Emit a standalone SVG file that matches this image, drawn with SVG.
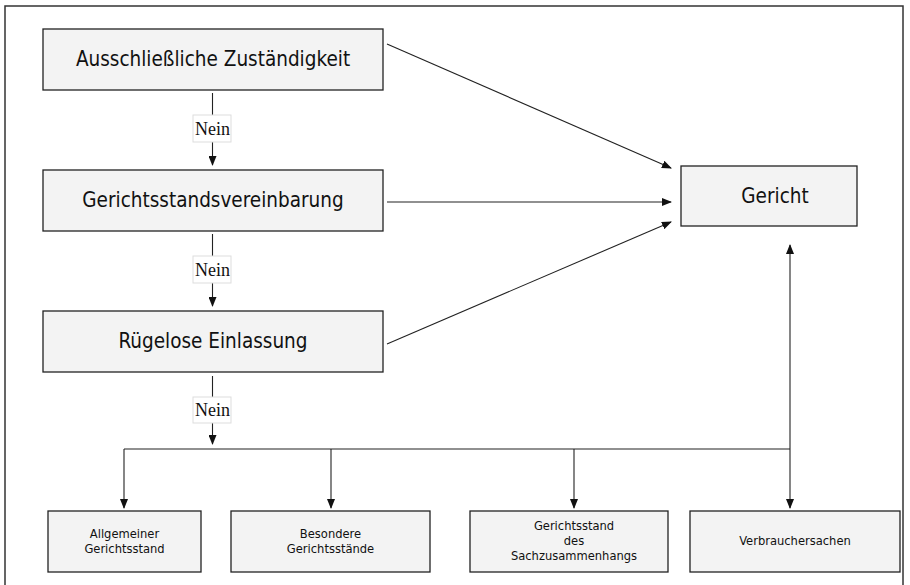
<svg xmlns="http://www.w3.org/2000/svg" width="910" height="585" viewBox="0 0 910 585">
<style>
.box{fill:#f3f3f3;stroke:#222;stroke-width:1.3}
.lbl{fill:#fff;stroke:#ddd;stroke-width:1}
.big{font-family:"DejaVu Sans Condensed","DejaVu Sans",sans-serif;font-size:20.5px;fill:#111;text-anchor:middle}
.sm{font-family:"DejaVu Sans Condensed","DejaVu Sans",sans-serif;font-size:12.8px;fill:#111;text-anchor:middle}
.nein{font-family:"Liberation Serif",serif;font-size:18px;fill:#111;text-anchor:middle}
.ln{stroke:#222;stroke-width:1.1;fill:none}
.ar{stroke:#222;stroke-width:1.1;fill:none;marker-end:url(#ah)}
</style>
<defs>
<marker id="ah" markerWidth="10" markerHeight="8" refX="9" refY="4" orient="auto" markerUnits="userSpaceOnUse">
<path d="M0,0 L10,4 L0,8 Z" fill="#111"/>
</marker>
</defs>
<rect x="5" y="6" width="898" height="585" fill="#fff" stroke="#333" stroke-width="1.5"/>
<g id="connectors">
<line class="ln" x1="212.5" y1="93" x2="212.5" y2="115"/>
<line class="ar" x1="212.5" y1="142" x2="212.5" y2="165"/>
<line class="ln" x1="212.5" y1="234" x2="212.5" y2="256"/>
<line class="ar" x1="212.5" y1="283" x2="212.5" y2="306"/>
<line class="ln" x1="212.5" y1="376" x2="212.5" y2="397"/>
<line class="ar" x1="212.5" y1="423" x2="212.5" y2="444"/>
<polyline class="ln" points="124,449 790,449"/>
<line class="ar" x1="124" y1="449" x2="124" y2="508"/>
<line class="ar" x1="331" y1="449" x2="331" y2="508"/>
<line class="ar" x1="574" y1="449" x2="574" y2="508"/>
<line class="ar" x1="790" y1="449" x2="790" y2="508"/>
<line class="ar" x1="790" y1="449" x2="790" y2="245"/>
<line class="ar" x1="387" y1="44" x2="671" y2="168"/>
<line class="ar" x1="387" y1="202" x2="671" y2="202"/>
<line class="ar" x1="387" y1="344" x2="671" y2="222"/>
<g id="nein1"><rect class="lbl" x="193" y="115" width="38" height="27"/><text class="nein" x="212.5" y="134.5">Nein</text></g>
<g id="nein2"><rect class="lbl" x="193" y="256" width="38" height="27"/><text class="nein" x="212.5" y="275.5">Nein</text></g>
<g id="nein3"><rect class="lbl" x="193" y="397" width="38" height="26"/><text class="nein" x="212.5" y="416">Nein</text></g>
</g>
<g id="ausschl"><rect class="box" x="43" y="29" width="340" height="61"/><text class="big" x="213" y="66">Ausschließliche Zuständigkeit</text></g>
<g id="gvereinb"><rect class="box" x="43" y="170" width="340" height="61"/><text class="big" x="213" y="207">Gerichtsstandsvereinbarung</text></g>
<g id="ruegelos"><rect class="box" x="43" y="311" width="340" height="61"/><text class="big" x="213" y="348">Rügelose Einlassung</text></g>
<g id="gericht"><rect class="box" x="681" y="166" width="176" height="60"/><text class="big" x="775" y="203">Gericht</text></g>
<g id="allg"><rect class="box" x="48" y="511" width="153" height="61"/><text class="sm" x="124.5" y="538">Allgemeiner</text><text class="sm" x="124.5" y="553">Gerichtsstand</text></g>
<g id="bes"><rect class="box" x="231" y="511" width="199" height="61"/><text class="sm" x="330.5" y="538">Besondere</text><text class="sm" x="330.5" y="553">Gerichtsstände</text></g>
<g id="sachz"><rect class="box" x="470" y="511" width="198" height="61"/><text class="sm" x="574" y="530">Gerichtsstand</text><text class="sm" x="574" y="545">des</text><text class="sm" x="574" y="560">Sachzusammenhangs</text></g>
<g id="verbr"><rect class="box" x="690" y="511" width="210" height="61"/><text class="sm" x="795" y="545">Verbrauchersachen</text></g>
</svg>
